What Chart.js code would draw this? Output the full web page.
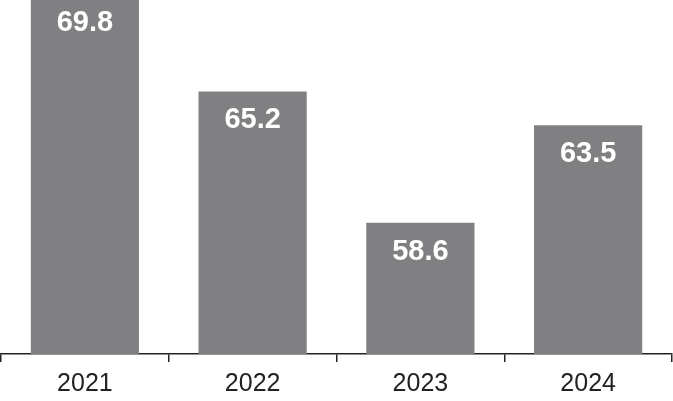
<!DOCTYPE html>
<html>
<head>
<meta charset="utf-8">
<script src="https://cdn.jsdelivr.net/npm/chart.js@4"></script>
<style>
  html, body { margin: 0; padding: 0; background: #fff; }
  #wrap { width: 673px; height: 401px; }
</style>
</head>
<body>
<div id="wrap"><canvas id="myChart"></canvas></div>
<script>
const years = ["2021", "2022", "2023", "2024"];
const values = [69.8, 65.2, 58.6, 63.5];

// white value labels inside the top of each bar
const barLabels = {
  id: "barLabels",
  afterDatasetsDraw(chart) {
    const ctx = chart.ctx;
    const meta = chart.getDatasetMeta(0);
    const top = chart.chartArea.top;
    ctx.save();
    ctx.fillStyle = "#ffffff";
    ctx.font = "bold 29px 'Liberation Sans', Arial, sans-serif";
    ctx.textAlign = "center";
    ctx.textBaseline = "middle";
    meta.data.forEach((bar, i) => {
      // bar that hits the top edge gets its label pulled up a bit
      let y = bar.y <= top + 1 ? top + 23 : bar.y + 29;
      ctx.fillText(values[i].toFixed(1), bar.x, y);
    });
    ctx.restore();
  },
};

new Chart(document.getElementById("myChart"), {
  type: "bar",
  data: {
    labels: years,
    datasets: [
      {
        data: values,
        backgroundColor: "#808083",
        categoryPercentage: 1,
        barPercentage: 0.645,
      },
    ],
  },
  options: {
    responsive: true,
    maintainAspectRatio: false,
    animation: false,
    layout: {
      padding: { left: 1, right: 1, top: 0, bottom: 0 },
    },
    scales: {
      x: {
        offset: true,
        grid: {
          offset: true,
          drawOnChartArea: false,
          drawTicks: true,
          tickLength: 8,
          color: "#222222",
          lineWidth: 1.5,
        },
        border: { display: true, color: "#222222", width: 1.5 },
        ticks: {
          color: "#222222",
          padding: 7,
          font: { family: "'Liberation Sans', Arial, sans-serif", size: 25 },
        },
        afterFit(scale) {
          scale.height = 47;
        },
      },
      y: {
        display: false,
        min: 52,
        max: 69.8,
      },
    },
    plugins: {
      legend: { display: false },
      tooltip: { enabled: false },
    },
  },
  plugins: [barLabels],
});
</script>
</body>
</html>
